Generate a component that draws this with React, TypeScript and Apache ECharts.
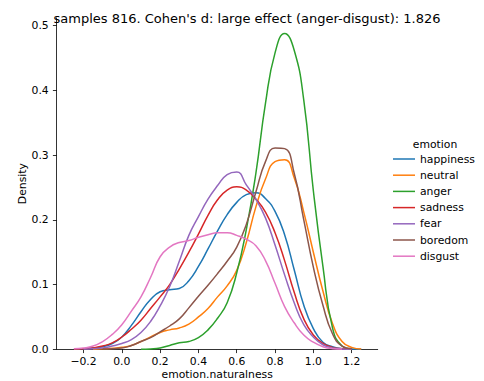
import React, { useEffect, useRef } from "react";
import * as echarts from "echarts";

// x grid shared by all density curves
const xs = [
  -0.25, -0.2, -0.15, -0.1, -0.05, 0.0, 0.05, 0.1, 0.15, 0.2, 0.25, 0.3, 0.35, 0.4, 0.45, 0.5,
  0.55, 0.6, 0.65, 0.7, 0.75, 0.8, 0.85, 0.9, 0.95, 1.0, 1.05, 1.1, 1.15, 1.2, 1.25,
];

const happiness = [0.0005, 0.001, 0.002, 0.004, 0.009, 0.019, 0.037, 0.058, 0.077, 0.089, 0.092, 0.094, 0.106, 0.128, 0.155, 0.183, 0.208, 0.227, 0.239, 0.242, 0.233, 0.213, 0.177, 0.123, 0.068, 0.032, 0.011, 0.004, 0.001, 0.0003, 0.0001];
const neutral = [null, null, 0.0002, 0.0008, 0.0015, 0.003, 0.006, 0.012, 0.019, 0.026, 0.03, 0.033, 0.039, 0.05, 0.063, 0.081, 0.098, 0.122, 0.165, 0.22, 0.263, 0.29, 0.293, 0.265, 0.212, 0.15, 0.09, 0.04, 0.012, 0.003, 0.0005];
const anger = [null, null, null, null, null, null, null, 0.0, 0.0005, 0.002, 0.006, 0.01, 0.012, 0.018, 0.03, 0.048, 0.072, 0.118, 0.185, 0.272, 0.38, 0.458, 0.488, 0.462, 0.385, 0.245, 0.128, 0.033, 0.005, 0.0005, null];
const sadness = [0.0005, 0.001, 0.002, 0.005, 0.01, 0.019, 0.031, 0.045, 0.063, 0.081, 0.1, 0.124, 0.15, 0.178, 0.207, 0.231, 0.246, 0.251, 0.246, 0.232, 0.212, 0.18, 0.137, 0.088, 0.047, 0.022, 0.009, 0.003, 0.001, 0.0002, null];
const fear = [null, 0.0005, 0.001, 0.002, 0.005, 0.009, 0.015, 0.026, 0.043, 0.067, 0.097, 0.136, 0.176, 0.205, 0.232, 0.253, 0.27, 0.274, 0.254, 0.232, 0.203, 0.161, 0.115, 0.072, 0.038, 0.019, 0.007, 0.002, 0.0005, 0.0001, null];
const boredom = [null, null, null, 0.0003, 0.001, 0.002, 0.006, 0.012, 0.018, 0.027, 0.036, 0.047, 0.064, 0.082, 0.099, 0.117, 0.136, 0.158, 0.193, 0.243, 0.29, 0.311, 0.31, 0.272, 0.2, 0.127, 0.068, 0.024, 0.005, 0.001, null];
const disgust = [0.001, 0.002, 0.005, 0.012, 0.023, 0.038, 0.059, 0.081, 0.111, 0.143, 0.158, 0.165, 0.168, 0.173, 0.177, 0.18, 0.18, 0.176, 0.17, 0.16, 0.137, 0.102, 0.066, 0.041, 0.022, 0.011, 0.004, 0.001, 0.0003, null, null];

const categories = ["happiness", "neutral", "anger", "sadness", "fear", "boredom", "disgust"];
const seriesValues = [happiness, neutral, anger, sadness, fear, boredom, disgust];
const colors = ["#1f77b4", "#ff7f0e", "#2ca02c", "#d62728", "#9467bd", "#8c564b", "#e377c2"];

const xTicks = [-0.2, 0.0, 0.2, 0.4, 0.6, 0.8, 1.0, 1.2];
const yTicks = [0.0, 0.1, 0.2, 0.3, 0.4, 0.5];

const titleText = "samples 816. Cohen's d: large effect (anger-disgust): 1.826";
const legendTitle = "emotion";
const xName = "emotion.naturalness";
const yName = "Density";

const FONT = "DejaVu Sans";
const FS = 10.8;

export default function App() {
  const ref = useRef<HTMLDivElement>(null);

  useEffect(() => {
    if (!ref.current) return;
    const chart = echarts.init(ref.current, null, { renderer: "svg" });

    const series = categories.map((name, i) => ({
      name,
      type: "line",
      smooth: true,
      showSymbol: false,
      symbol: "none",
      lineStyle: { width: 1.5, color: colors[i] },
      itemStyle: { color: colors[i] },
      data: xs
        .map((x, j) => [x, seriesValues[i][j]])
        .filter((p) => p[1] !== null && p[1] !== undefined),
    }));

    const axisLine = { show: true, onZero: false, lineStyle: { color: "#000", width: 0.8 } };
    const tickBase = { show: true, length: 3.8, lineStyle: { color: "#000", width: 0.8 } };
    const nameTextStyle = { fontSize: FS, color: "#000", fontFamily: FONT };

    chart.setOption({
      animation: false,
      color: colors,
      grid: {
        left: 56.7,
        top: 17.9,
        width: 321,
        height: 331.4,
        containLabel: false,
        outerBoundsMode: "none",
      },
      graphic: [
        {
          type: "text",
          x: 247,
          y: 18,
          style: {
            text: titleText,
            fontSize: 13,
            fontFamily: FONT,
            fill: "#000",
            align: "center",
            verticalAlign: "middle",
          },
        },
        {
          type: "text",
          x: 435,
          y: 144,
          style: {
            text: legendTitle,
            fontSize: FS,
            fontFamily: FONT,
            fill: "#000",
            align: "center",
            verticalAlign: "middle",
          },
        },
      ],
      legend: {
        orient: "vertical",
        left: 393,
        top: 153,
        padding: 0,
        icon: "rect",
        itemWidth: 22,
        itemHeight: 1.5,
        itemGap: 4.2,
        data: categories,
        textStyle: { fontSize: FS, lineHeight: 12, color: "#000", fontFamily: FONT },
      },
      xAxis: {
        type: "value",
        min: -0.34,
        max: 1.336,
        name: xName,
        nameLocation: "middle",
        nameGap: 19.8,
        nameMoveOverlap: false,
        nameTextStyle: { ...nameTextStyle, lineHeight: 11 },
        axisLine,
        splitLine: { show: false },
        axisTick: { ...tickBase, customValues: xTicks },
        axisLabel: {
          customValues: xTicks,
          fontSize: FS,
          lineHeight: 12,
          color: "#000",
          fontFamily: FONT,
          margin: 6.5,
          formatter: (v: number) => (v < 0 ? "\u2212" : "") + Math.abs(v).toFixed(1),
        },
      },
      yAxis: {
        type: "value",
        min: 0,
        max: 0.512,
        name: yName,
        nameLocation: "middle",
        nameGap: 29,
        nameRotate: 90,
        nameMoveOverlap: false,
        nameTextStyle,
        axisLine,
        splitLine: { show: false },
        axisTick: { ...tickBase, customValues: yTicks },
        axisLabel: {
          customValues: yTicks,
          fontSize: FS,
          color: "#000",
          fontFamily: FONT,
          margin: 8,
          formatter: (v: number) => v.toFixed(1),
        },
      },
      series,
    });

    return () => chart.dispose();
  }, []);

  return (
    <div
      ref={ref}
      style={{ position: "absolute", left: 0, top: 0, width: 484, height: 381, background: "#fff" }}
    />
  );
}
